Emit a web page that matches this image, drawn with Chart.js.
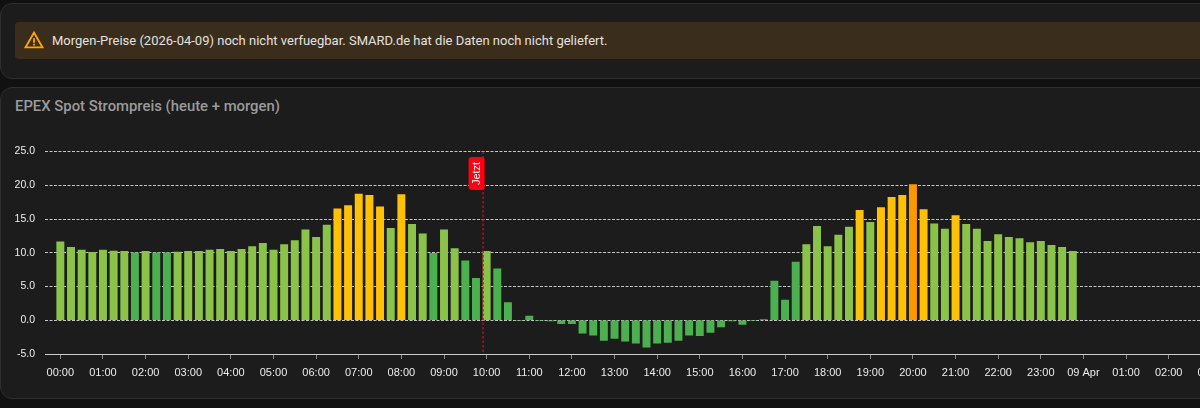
<!DOCTYPE html>
<html lang="de">
<head>
<meta charset="utf-8">
<title>EPEX Spot Strompreis</title>
<script src="https://cdn.jsdelivr.net/npm/chart.js@4"></script>
<style>
html,body{margin:0;padding:0;width:1200px;height:408px;overflow:hidden;background:#111111;font-family:Roboto,sans-serif}
.card{position:absolute;left:0;width:1300px;background:#1c1c1c;border:1px solid #2e2e2e;border-radius:12px;box-sizing:border-box}
#c1{top:3px;height:76px}
#c2{top:87px;height:312px}
#banner{position:absolute;left:15px;top:22px;width:1280px;height:37px;background:#3b2d1b;border-radius:4px}
#banner svg{position:absolute;left:8px;top:7px}
#banner span{position:absolute;left:37px;top:0;line-height:37px;font-size:13px;color:#e1e1e1;white-space:nowrap}
#title{position:absolute;left:15px;top:97px;line-height:18px;font-size:14.85px;font-weight:500;color:#9b9b9b;white-space:nowrap}
#wrap{position:absolute;left:0;top:0;width:1300px;height:408px}
</style>
</head>
<body>
<div class="card" id="c1"></div>
<div class="card" id="c2"></div>
<div id="banner">
<svg width="22" height="22" viewBox="0 0 24 24"><path fill="#ffa500" d="M12 2 1 21h22L12 2zm0 3.99L19.53 19H4.47L12 5.99zM11 10v5h2v-5h-2zm0 6v2h2v-2h-2z"/></svg>
<span>Morgen-Preise (2026-04-09) noch nicht verfuegbar. SMARD.de hat die Daten noch nicht geliefert.</span>
</div>
<div id="title">EPEX Spot Strompreis (heute + morgen)</div>
<div id="wrap"><canvas id="chart"></canvas></div>
<script>
const slots = [
"00:00","00:15","00:30","00:45","01:00","01:15","01:30","01:45",
"02:00","02:15","02:30","02:45","03:00","03:15","03:30","03:45",
"04:00","04:15","04:30","04:45","05:00","05:15","05:30","05:45",
"06:00","06:15","06:30","06:45","07:00","07:15","07:30","07:45",
"08:00","08:15","08:30","08:45","09:00","09:15","09:30","09:45",
"10:00","10:15","10:30","10:45","11:00","11:15","11:30","11:45",
"12:00","12:15","12:30","12:45","13:00","13:15","13:30","13:45",
"14:00","14:15","14:30","14:45","15:00","15:15","15:30","15:45",
"16:00","16:15","16:30","16:45","17:00","17:15","17:30","17:45",
"18:00","18:15","18:30","18:45","19:00","19:15","19:30","19:45",
"20:00","20:15","20:30","20:45","21:00","21:15","21:30","21:45",
"22:00","22:15","22:30","22:45","23:00","23:15","23:30","23:45"];
const prices = [
11.6,10.8,10.4,10.06,10.4,10.25,10.2,9.97,
10.2,9.97,9.97,10.1,10.2,10.2,10.4,10.5,
10.2,10.5,10.9,11.4,10.4,11.2,11.8,13.4,
12.3,14.1,16.5,17.0,18.7,18.5,16.8,13.6,
18.6,14.2,12.8,9.9,13.4,10.6,8.8,6.2,
10.2,7.6,2.6,0,0.6,0,-0.1,-0.5,
-0.5,-1.9,-2.2,-3.0,-2.7,-3.1,-3.4,-4.0,
-3.4,-3.3,-3.0,-2.2,-2.3,-1.8,-1.0,-0.1,
-0.6,0,0.1,5.8,3.0,8.6,11.2,13.9,
10.9,12.6,13.8,16.3,14.5,16.7,18.2,18.5,
20.1,16.4,14.3,13.5,15.5,14.2,13.5,11.7,
12.7,12.3,12.1,11.5,11.7,11.1,10.8,10.2];
const tickLabels = ["00:00","01:00","02:00","03:00","04:00","05:00","06:00","07:00","08:00","09:00","10:00","11:00","12:00","13:00","14:00","15:00","16:00","17:00","18:00","19:00","20:00","21:00","22:00","23:00","09 Apr","01:00","02:00","03:00","04:00","05:00"];
const yTicks = [-5,0,5,10,15,20,25];
const nowTime = "09:55";
const nowLabel = "Jetzt";

const toHours = t => { const [h,m] = t.split(":").map(Number); return h + m/60; };
const colorOf = v => v >= 20 ? "#ff9800" : v >= 15 ? "#ffc107" : v >= 10 ? "#8bc34a" : "#4caf50";

const nowMarker = {
  id: "nowMarker",
  afterDatasetsDraw(chart) {
    const {ctx, scales:{x}, chartArea:a} = chart;
    const px = x.getPixelForValue(toHours(nowTime));
    ctx.save();
    ctx.strokeStyle = "#d40a14";
    ctx.lineWidth = 1.3;
    ctx.setLineDash([2.5,2]);
    ctx.beginPath(); ctx.moveTo(px,a.top); ctx.lineTo(px,a.bottom); ctx.stroke();
    ctx.setLineDash([]);
    const w = 16, h = 33, top = a.top + 5.5;
    ctx.fillStyle = "#ff0010";
    ctx.beginPath(); ctx.roundRect(px-w+1.5, top, w, h, 3); ctx.fill();
    ctx.translate(px-w/2+1.5, top+h/2);
    ctx.rotate(-Math.PI/2);
    ctx.fillStyle = "#ffffff";
    ctx.font = "11px 'Liberation Sans'";
    ctx.textAlign = "center"; ctx.textBaseline = "middle";
    ctx.fillText(nowLabel, 0, 0);
    ctx.restore();
  }
};

new Chart(document.getElementById("chart"), {
  type: "bar",
  data: { datasets: [{
    data: slots.map((t,i)=>({x:toHours(t), y:prices[i]})),
    backgroundColor: prices.map(colorOf),
    borderWidth: 0,
    barThickness: 7.3
  }]},
  options: {
    responsive: true, maintainAspectRatio: false, animation: false,
    layout: { padding: { top: 151.5, left: 0, right: 0, bottom: 0 } },
    plugins: { legend:{display:false}, tooltip:{enabled:false} },
    scales: {
      x: {
        type: "linear", offset: false, min: -0.36, max: 29.08,
        afterFit(s){ s.height = 54; s.paddingLeft = 0; s.paddingRight = 0; },
        grid: { offset:false, drawOnChartArea:false, drawTicks:true, tickLength:5, color:"#8a8a8a" },
        border: { display:true, color:"#cfcfcf" },
        ticks: { stepSize:1, includeBounds:false, autoSkip:false, maxRotation:0, padding:7,
          color:"#ececec", font:{family:"'Liberation Sans'", size:11},
          callback: v => tickLabels[v] }
      },
      y: {
        min: yTicks[0], max: yTicks[yTicks.length-1],
        afterFit(s){ s.width = 45; },
        grid: { color:"#c4c4c4", tickLength:0, drawTicks:false },
        border: { display:false, dash:[3,1.5] },
        ticks: { stepSize:5, padding:10, color:"#ececec",
          font:{family:"'Liberation Sans'", size:10.5},
          callback: v => v.toFixed(1) }
      }
    }
  },
  plugins: [nowMarker]
});
</script>
</body>
</html>
